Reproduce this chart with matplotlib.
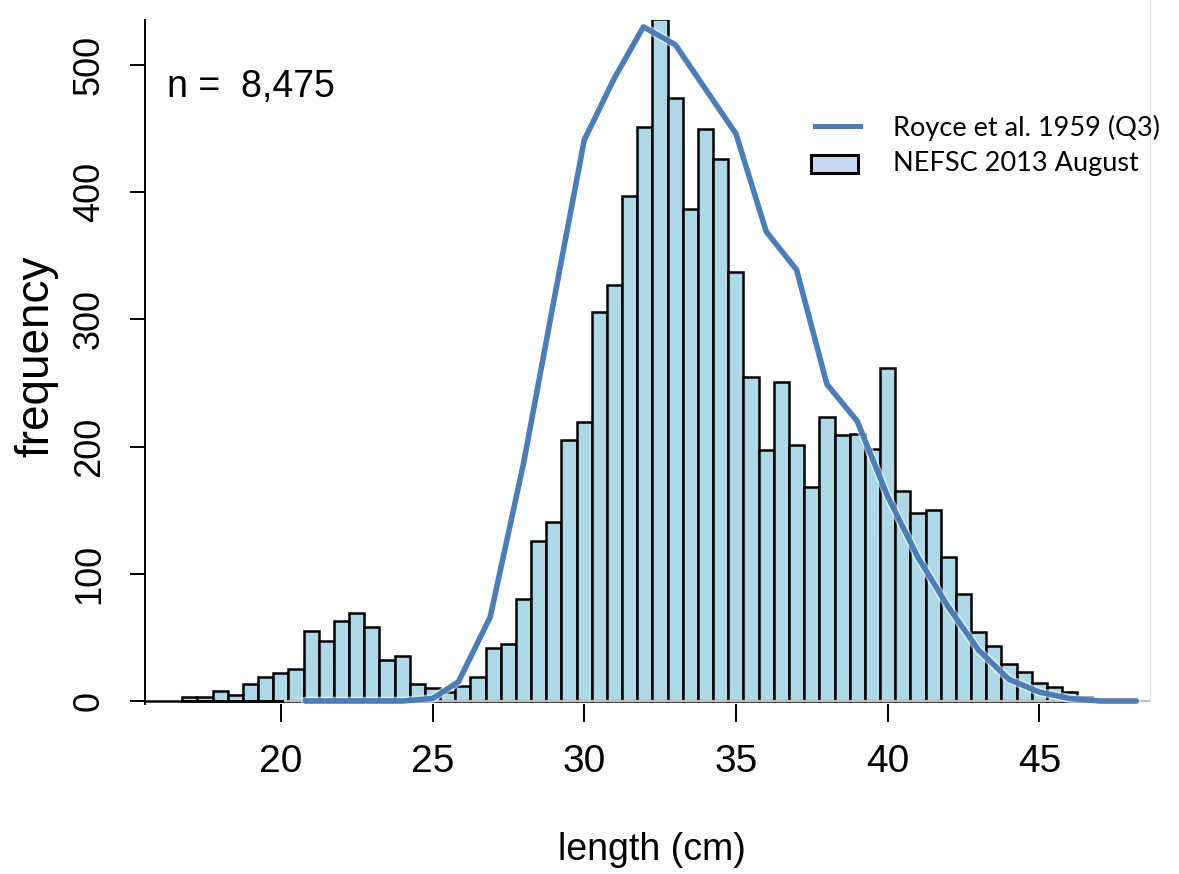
import matplotlib
matplotlib.use("Agg")
import matplotlib.pyplot as plt
import matplotlib.patheffects as pe
from matplotlib.lines import Line2D
from matplotlib.patches import Rectangle

# ---- data ----
length_bins = [17.0, 17.5, 18.0, 18.5, 19.0, 19.5, 20.0, 20.5, 21.0, 21.5,
               22.0, 22.5, 23.0, 23.5, 24.0, 24.5, 25.0, 25.5, 26.0, 26.5,
               27.0, 27.5, 28.0, 28.5, 29.0, 29.5, 30.0, 30.5, 31.0, 31.5,
               32.0, 32.5, 33.0, 33.5, 34.0, 34.5, 35.0, 35.5, 36.0, 36.5,
               37.0, 37.5, 38.0, 38.5, 39.0, 39.5, 40.0, 40.5, 41.0, 41.5,
               42.0, 42.5, 43.0, 43.5, 44.0, 44.5, 45.0, 45.5, 46.0, 46.5, 47.0]
nefsc_counts = [3, 3, 8, 5, 13, 19, 22, 25, 55, 47,
                63, 69, 58, 32, 35, 13, 10, 7, 12, 19,
                42, 45, 80, 126, 141, 205, 219, 306, 327, 397,
                451, 536, 474, 387, 450, 426, 337, 255, 197, 251,
                201, 168, 223, 209, 210, 198, 262, 165, 148, 150,
                113, 84, 54, 43, 29, 23, 14, 11, 7, 3, 1]

royce_x = [20.8, 22, 23, 24, 25, 25.85, 26.9, 28, 29, 30, 31, 31.95, 33, 34,
           35, 36, 37, 38, 39, 40, 41, 42, 43, 44, 45, 46, 47, 48.2]
royce_y = [0, 0, 0, 0, 2, 15, 66, 187, 315, 441, 490, 530, 516, 481,
           446, 369, 339, 249, 220, 161, 113, 74, 40, 17, 7, 2, 0, 0]

x_ticks = [20, 25, 30, 35, 40, 45]
y_ticks = [0, 100, 200, 300, 400, 500]

label_royce = "Royce et al. 1959 (Q3)"
label_nefsc = "NEFSC 2013 August"
n_text = "n =  8,475"

REG = ["Liberation Sans", "DejaVu Sans"]
LEG = ["Lato", "DejaVu Sans"]

W, H = 1179, 874
fig = plt.figure(figsize=(W / 100, H / 100), dpi=100)
ax = fig.add_axes([145 / W, 170 / H, (1170 - 145) / W, 684 / H])

ax.set_xlim(15.52, 49.31)
ax.set_ylim(-2.36, 535.4)

# histogram bars
ax.bar(length_bins, nefsc_counts, width=0.5, color="#add8e6",
       edgecolor="black", linewidth=1.8, zorder=2)

# baselines
ax.hlines(0, 15.52, 20.1, color="black", linewidth=1.8, zorder=3)
ax.hlines(0, 20.1, 48.65, color="#bdbdbd", linewidth=1.6, zorder=3)

# Royce line
ax.plot(royce_x, royce_y, color="#4a7ebb", linewidth=4.0, zorder=4,
        solid_capstyle="round", solid_joinstyle="round",
        path_effects=[pe.Stroke(linewidth=6.2, foreground="white", alpha=0.6),
                      pe.Normal()])

# spines / ticks
for s in ["top", "right", "bottom"]:
    ax.spines[s].set_visible(False)
ax.spines["left"].set_linewidth(1.4)

ax.set_xticks(x_ticks)
ax.set_xticklabels([str(v) for v in x_ticks])
ax.tick_params(axis="x", length=13, width=1.4, pad=16, labelsize=28)
for lbl in ax.get_xticklabels():
    lbl.set_fontfamily(REG)

ax.set_yticks(y_ticks)
ax.set_yticklabels([str(v) for v in y_ticks])
ax.tick_params(axis="y", length=11, width=1.4, pad=16.5, labelsize=26,
               labelrotation=90)
for lbl in ax.get_yticklabels():
    lbl.set_fontfamily(REG)
    lbl.set_verticalalignment("center")

ax.set_xlabel("length (cm)", fontsize=27, family=REG, va="center")
ax.xaxis.set_label_coords(0.4946, -0.2135)
ax.set_ylabel("frequency", fontsize=33, family=REG, va="center")
ax.yaxis.set_label_coords(-0.1063, 0.509)

ax.text(0.0215, 0.887, n_text, transform=ax.transAxes, fontsize=27,
        family=REG, va="baseline", ha="left")

# legend (manual, in figure pixel positions)
def fx(px):
    return px / W

def fy(py):
    return 1 - py / H

fig.add_artist(Line2D([fx(815), fx(860)], [fy(126), fy(126)],
                      color="#4a7ebb", linewidth=3.6))
fig.add_artist(Rectangle((fx(811), fy(173)), fx(858) - fx(811), fy(155) - fy(173),
                         facecolor="#c6d9f1", edgecolor="black", linewidth=2.2))
fig.text(fx(893), fy(128), label_royce, fontsize=19.5, family=LEG, va="center", ha="left")
fig.text(fx(893), fy(163), label_nefsc, fontsize=19.5, family=LEG, va="center", ha="left")

# faint frame line at right
fig.add_artist(Line2D([fx(1150), fx(1150)], [fy(0), fy(700)],
                      color="#e3e3e3", linewidth=1.0))

fig.savefig("out.png", dpi=100, facecolor="white")
